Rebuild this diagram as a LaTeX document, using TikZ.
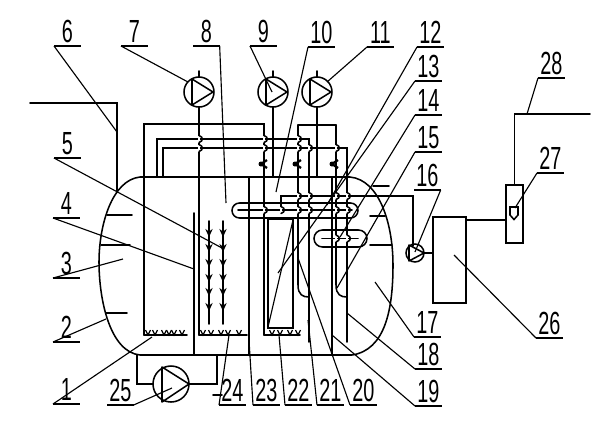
\documentclass[tikz,border=0pt]{standalone}
\usepackage{fontspec}
\newfontfamily\tagfont[FakeStretch=0.62]{Liberation Sans}
\usetikzlibrary{arrows.meta}
\tikzset{
    pipe/.style={line width=1.15pt, line cap=round},
    leader/.style={line width=0.85pt},
    tag/.style={anchor=south west, minimum width=20pt, inner xsep=0pt, inner ysep=2.5pt, outer sep=0pt, text depth=0pt, font=\tagfont\fontsize{24}{24}\selectfont},
    pump/.style={draw, circle, line width=1.15pt, inner sep=0pt, outer sep=0pt},
    box/.style={draw, rectangle, line width=1.15pt, inner sep=0pt, outer sep=0pt}
}
\begin{document}
\begin{tikzpicture}[x=0.75pt, y=-0.75pt]
\useasboundingbox (0,0) rectangle (600,430);

%%% cuve
\draw[pipe] (140,177) .. controls (112,180) and (99,225) .. (99,262) .. controls (99,300) and (110,352) .. (140,355) -- (352,355) .. controls (385,350) and (393,310) .. (393,265) .. controls (393,225) and (380,180) .. (350,177) -- cycle;
% graduations
\draw[pipe] (107,215) -- (132,215);
\draw[pipe] (101,245) -- (130,245);
\draw[pipe] (106,313) -- (127,313);
\draw[pipe] (373,186) -- (389,186);
\draw[pipe] (370,216) -- (385,216);
\draw[pipe] (370,245) -- (392,245);

%%% cloisons
\draw[pipe] (194,213) -- (194,355);
\draw[pipe] (249,177) -- (249,355);
\draw[pipe] (332,177) -- (332,355);

%%% pompes
\node[pump, minimum size=22.5pt] (pump7) at (199,92) {};
\node[pump, minimum size=22.5pt] (pump9) at (273,92) {};
\node[pump, minimum size=22.5pt] (pump11) at (317,92) {};
\foreach \x in {199,273,317} {
    \draw[pipe, line join=round] (\x-7,79) -- (\x-7,105) -- (\x+14,92) -- cycle;
    \draw[pipe] (\x,71) -- (\x,77);
}
\node[pump, minimum size=27pt] (pump25) at (171,384) {};
\draw[pipe, line join=round] (162,367) -- (162,402) -- (189,384) -- cycle;
\node[pump, minimum size=13.5pt] (pump16) at (415,253) {};
\draw[pipe, line join=round] (409,245) -- (409,261) -- (424,253) -- cycle;

%%% conduites
\draw[pipe] (30,103) -- (117,103) -- (117,192);
\draw[pipe] (pump7.south) -- (199,335);
\draw[pipe] (pump9.south) -- (273,177);
\draw[pipe] (pump11.south) -- (317,177);
\draw[pipe] (144,335) -- (144,124) -- (264,124) -- (264,335);
\draw[pipe] (157,177) -- (157,139) -- (309,139) -- (309,342);
\draw[pipe] (163,177) -- (163,148) -- (347,148) -- (347,342);
\draw[pipe] (298,125) -- (336,125);
\draw[pipe] (298,125) -- (298,285) .. controls (298,295) and (303,297) .. (309,297);
\draw[pipe] (336,125) -- (336,285) .. controls (336,295) and (341,297) .. (347,297);
\draw[pipe] (281,210) -- (281,196) -- (413,196) -- (413,246);
\draw[pipe] (137,355) -- (137,384) -- (pump25.west);
\draw[pipe] (pump25.east) -- (217,384) -- (217,355);
\draw[pipe] (213,395) -- (222,395);

%%% aerateurs
\draw[pipe] (144,335) -- (187,335);
\draw[pipe] (199,335) -- (247,335);
\draw[pipe] (264,335) -- (300,335);
\foreach \x in {148,155,164,169,174,182,203,211,221,228,239,272,280,290,298} {
    \draw[leader] (\x-2.5,330) -- (\x,335) -- (\x+2.5,330);
}

%%% fleches
\foreach \x in {209,223} {
    \draw[pipe] (\x,221) -- (\x,324);
    \foreach \y in {233,248,263,278,292,307} {
        \draw[pipe, -{Stealth[length=6pt,width=5.5pt]}] (\x,\y-4) -- (\x,\y+4);
    }
}

%%% filtre
\draw[pipe] (268,219) rectangle (293,328);
\draw[leader] (293,220) -- (268,327);

%%% tubes
\draw[pipe] (239.5,203) -- (350.5,203) arc (-90:90:7.5) -- (239.5,218) arc (90:270:7.5);
\draw[pipe] (238,210) -- (352,210);
\draw[pipe] (322.5,230) -- (358.5,230) arc (-90:90:8.5) -- (322.5,247) arc (90:270:8.5);
\draw[pipe] (322,238.5) -- (358,238.5);

%%% croisements
\foreach \x/\y in {199/139,199/148,264/139,264/148,298/139,298/148,309/148,336/148,264/210,281/210,298/196,298/210,309/196,309/210,336/196,336/210,347/196,347/210,336/238.5,347/238.5} {
    \fill[white] (\x-1,\y-3.5) rectangle (\x+1,\y+3.5);
    \draw[pipe] (\x,\y-3.5) .. controls (\x+4.5,\y-2) and (\x+4.5,\y+2) .. (\x,\y+3.5);
}

%%% vannes
\foreach \x in {264,298,335} {
    \draw[line width=1.7pt] (\x+3,160) -- (\x-3,164) -- (\x+3,168);
    \fill (\x-3,164) circle (2.5);
}

%%% traitement
\node[box, minimum width=24.75pt, minimum height=64.5pt] (box26) at (449.5,260) {};
\node[box, minimum width=12.75pt, minimum height=43.5pt] (box27) at (514.5,214) {};
\coordinate (out26) at (466,220);
\draw[pipe] (pump16.east) -- (pump16.east -| box26.west);
\draw[pipe] (out26) -- (out26 -| box27.west);
\draw[pipe] (box27.north) -- (514.5,114) -- (590,114);
\draw[pipe, line join=miter] (510,207) -- (518,207) -- (518,215) -- (514,219.5) -- (510,215) -- cycle;

%%% reperes
\foreach \n/\x/\y/\sd/\ex/\ey in {1/53/404/west/152/337, 2/53/342/west/106/319, 3/53/278/west/123/259, 4/53/218/west/194/269, 5/54/158/west/222/248, 6/54/46/west/117/132, 7/121/46/west/188/82, 8/193/46/east/226/203, 9/250/46/west/272/92, 10/308/47/west/276/192, 11/367/47/west/327/82, 12/417/47/west/327/205, 13/415/81/west/278/273, 14/415/115/west/340/237, 15/415/152/west/337/288, 16/414/190/east/415/252, 17/414/337/west/375/282, 18/415/369/west/347/313, 19/415/406/west/332/335, 20/350/405/west/298/258, 21/317/405/west/308/320, 22/285/405/west/279/335, 23/253/405/west/249/340, 24/219/405/west/229/335, 25/107/405/east/172/388, 26/536/338/west/454/255, 27/537/173/west/515/208, 28/538/78/west/527/114} {
    \node[tag] (tag\n) at (\x,\y) {\n};
    \coordinate (end\n) at (\ex,\ey);
    \draw[leader] (tag\n.south west) -- (tag\n.south east);
    \draw[leader] (tag\n.south \sd) -- (end\n);
}
\end{tikzpicture}
\end{document}
